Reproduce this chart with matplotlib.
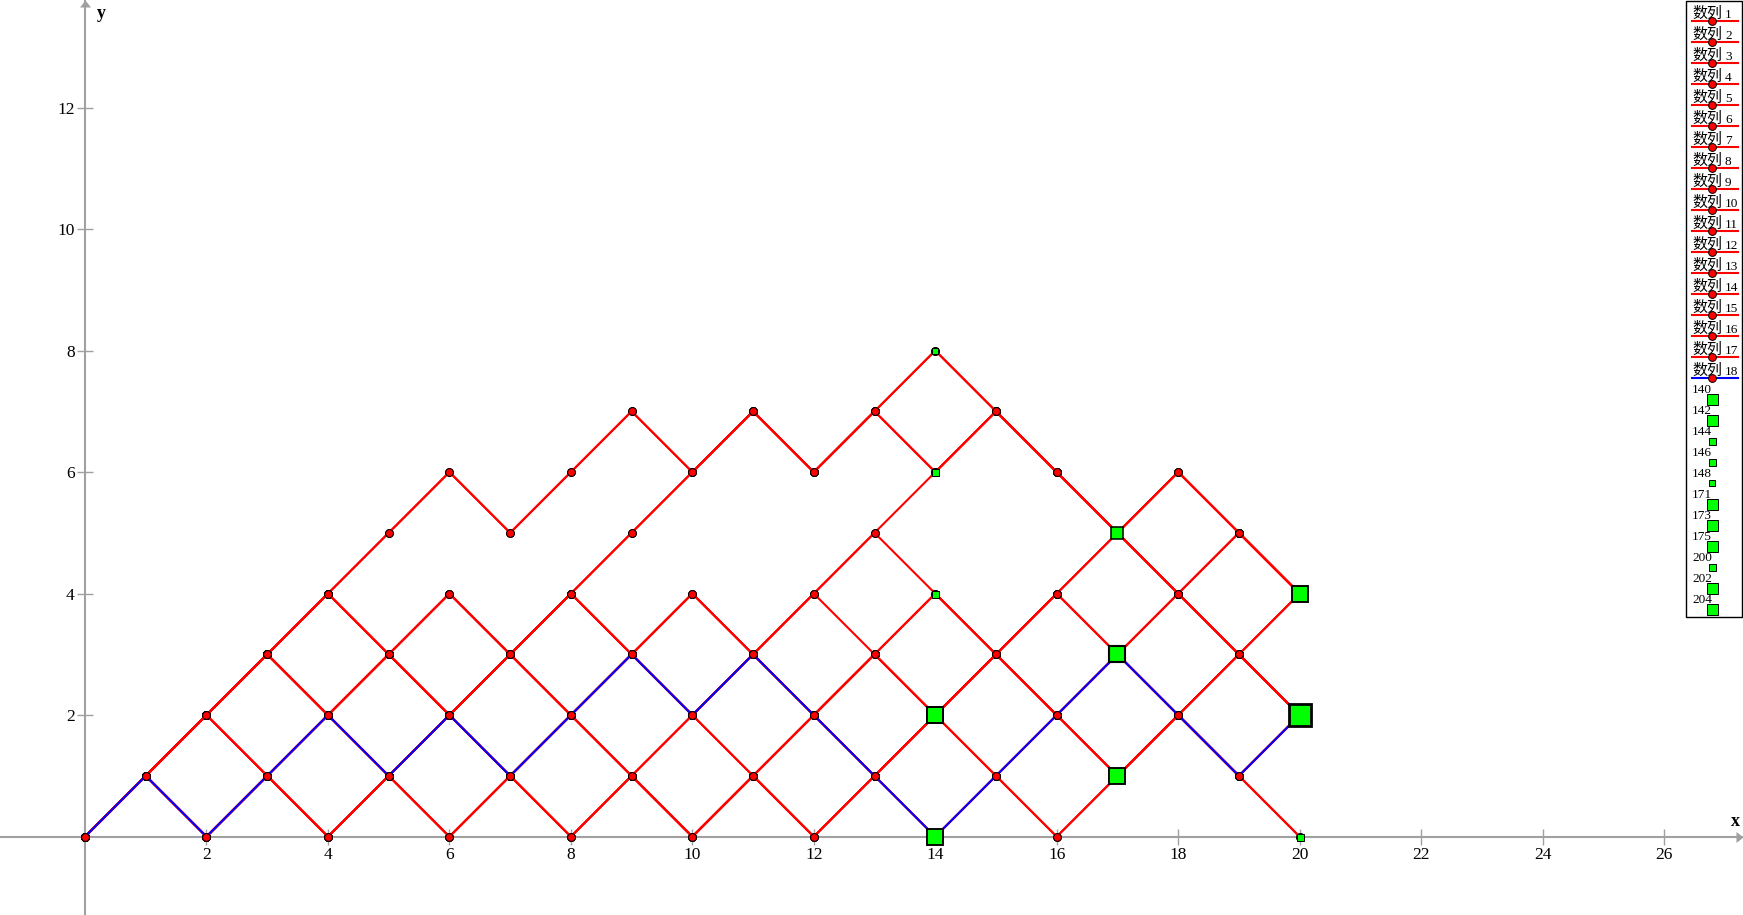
import numpy as np
import matplotlib.pyplot as plt
from matplotlib.patches import Rectangle

# x positions shared by every 数列
steps = list(range(21))

# y value of each 数列 at x = 0..20 (the last one is drawn in blue)
seq_y = [
    [0,1,2,3,4,5,6,5,6,7,6,7,6,7,8,7,6,5,6,5,4],
    [0,1,2,3,4,3,4,3,4,5,6,7,6,7,6,7,6,5,4,3,2],
    [0,1,2,3,2,3,2,3,4,3,4,3,4,5,6,7,6,5,6,5,4],
    [0,1,2,1,2,1,2,1,2,3,4,3,4,5,4,3,4,5,4,5,4],
    [0,1,0,1,0,1,0,1,0,1,0,1,0,1,0,1,0,1,2,1,0],
    [0,1,2,3,2,3,2,3,2,1,2,1,2,3,4,3,2,3,4,3,4],
    [0,1,2,1,2,1,2,1,2,3,2,3,4,3,2,3,4,3,2,3,2],
    [0,1,0,1,0,1,0,1,0,1,0,1,2,1,2,1,2,1,2,1,2],
    [0,1,2,3,2,3,2,3,2,3,2,3,2,3,2,3,2,3,2,3,2],
    [0,1,0,1,2,1,2,1,2,3,2,3,2,1,0,1,2,3,2,1,2],
    [0,1,2,3,4,5,6,5,6,7,6,7,6,7,6,7,6,5,4,3,2],
    [0,1,2,3,4,3,2,1,0,1,0,1,0,1,2,3,4,3,4,5,4],
    [0,1,0,1,2,3,4,3,4,3,4,3,2,1,2,3,2,1,2,3,4],
    [0,1,2,1,0,1,2,3,2,1,0,1,2,3,4,3,2,1,2,1,0],
    [0,1,2,3,4,3,4,3,4,5,6,7,6,7,8,7,6,5,6,5,4],
    [0,1,0,1,0,1,0,1,2,1,2,3,2,3,2,1,0,1,2,1,2],
    [0,1,2,3,2,1,2,3,4,3,2,1,0,1,2,3,4,5,4,3,2],
    [0,1,0,1,2,1,2,1,2,3,2,3,2,1,0,1,2,3,2,1,2],
]
seq_nums = [str(i + 1) for i in range(len(seq_y))]

# green square points
sq_names = ['140', '142', '144', '146', '148', '171', '173', '175', '200', '202', '204']
sq_x = [14, 14, 14, 14, 14, 17, 17, 17, 20, 20, 20]
sq_y = [0, 2, 4, 6, 8, 1, 3, 5, 0, 2, 4]
sq_px = [17, 18, 8, 8, 7, 17, 19, 14, 8, 25, 17]

W, H = 1743, 915
gray = '#a0a0a0'
pt = 0.72  # points per pixel at dpi 100

fig = plt.figure(figsize=(W / 100, H / 100), dpi=100)
ax = fig.add_axes([0, 0, 1, 1])
ax.set_xlim(-1.40, 27.30)
ax.set_ylim(-1.29, 13.77)

for side in ['top', 'right']:
    ax.spines[side].set_visible(False)
for side in ['left', 'bottom']:
    ax.spines[side].set_position(('data', 0))
    ax.spines[side].set_color(gray)
    ax.spines[side].set_linewidth(1.5)
ax.set_xticks(np.arange(2, 27, 2))
ax.set_yticks(np.arange(2, 13, 2))
ax.tick_params(direction='inout', length=11, width=1, color=gray,
               labelsize=12.5, pad=2)
for lab in ax.get_xticklabels() + ax.get_yticklabels():
    lab.set_family('Liberation Serif')

# arrow heads
ax.plot(1, 0, marker=[(0, 0), (-7, 5.5), (-7, -5.5)], ms=14 * pt, mew=0,
        color=gray, transform=ax.get_yaxis_transform(), clip_on=False)
ax.plot(0, 1, marker=[(0, 0), (5.5, -7), (-5.5, -7)], ms=14 * pt, mew=0,
        color=gray, transform=ax.get_xaxis_transform(), clip_on=False)
ax.annotate('x', xy=(1, 0), xycoords=ax.get_yaxis_transform(), xytext=(-8, 15),
            textcoords='offset pixels', ha='center', va='center',
            family='Liberation Serif', weight='bold', fontsize=13)
ax.annotate('y', xy=(0, 1), xycoords=ax.get_xaxis_transform(), xytext=(16, -13),
            textcoords='offset pixels', ha='center', va='center',
            family='Liberation Serif', weight='bold', fontsize=13)

n = len(seq_y)
for i, ys in enumerate(seq_y):
    col = '#0000ff' if i == n - 1 else '#ff0000'
    ax.plot(steps, ys, color=col, lw=1.5, marker='o', ms=5.6, mfc='#ff0000',
            mec='black', mew=0.7, zorder=3)

for x, y, s in zip(sq_x, sq_y, sq_px):
    e = max(1.0, s / 9)
    ax.plot(x, y, marker='s', ms=(s - e) * pt, mfc='#00ff00', mec='black',
            mew=e * pt, zorder=5, clip_on=False)

# legend drawn in pixel coordinates
lg = fig.add_axes([0, 0, 1, 1], facecolor='none')
lg.set_xlim(0, W)
lg.set_ylim(H, 0)
lg.axis('off')
lg.add_patch(Rectangle((1686, 1), 56, 616, fc='white', ec='black', lw=1))
for i, num in enumerate(seq_nums):
    ly = 20.7 + 21 * i
    col = '#0000ff' if i == n - 1 else '#ff0000'
    lg.text(1692, ly - 6.5, '数列', family='Noto Sans CJK SC', fontsize=10.8,
            ha='left', va='center')
    lg.text(1725, ly - 5.5, num, family='Liberation Serif', fontsize=9.5,
            ha='left', va='center')
    lg.plot([1692, 1738], [ly, ly], color=col, lw=1.5)
    lg.plot(1712, ly, marker='o', ms=5.6, mfc='#ff0000', mec='black', mew=0.7)
for j, (name, s) in enumerate(zip(sq_names, sq_px)):
    ty = 390 + 21 * j
    lg.text(1692, ty, name, family='Liberation Serif', fontsize=9.5, ha='left', va='center')
    ls = min(s, 12)
    lg.plot(1712, ty + 9, marker='s', ms=(ls - 1) * pt, mfc='#00ff00', mec='black',
            mew=0.7)

fig.savefig('out.png', dpi=100)
